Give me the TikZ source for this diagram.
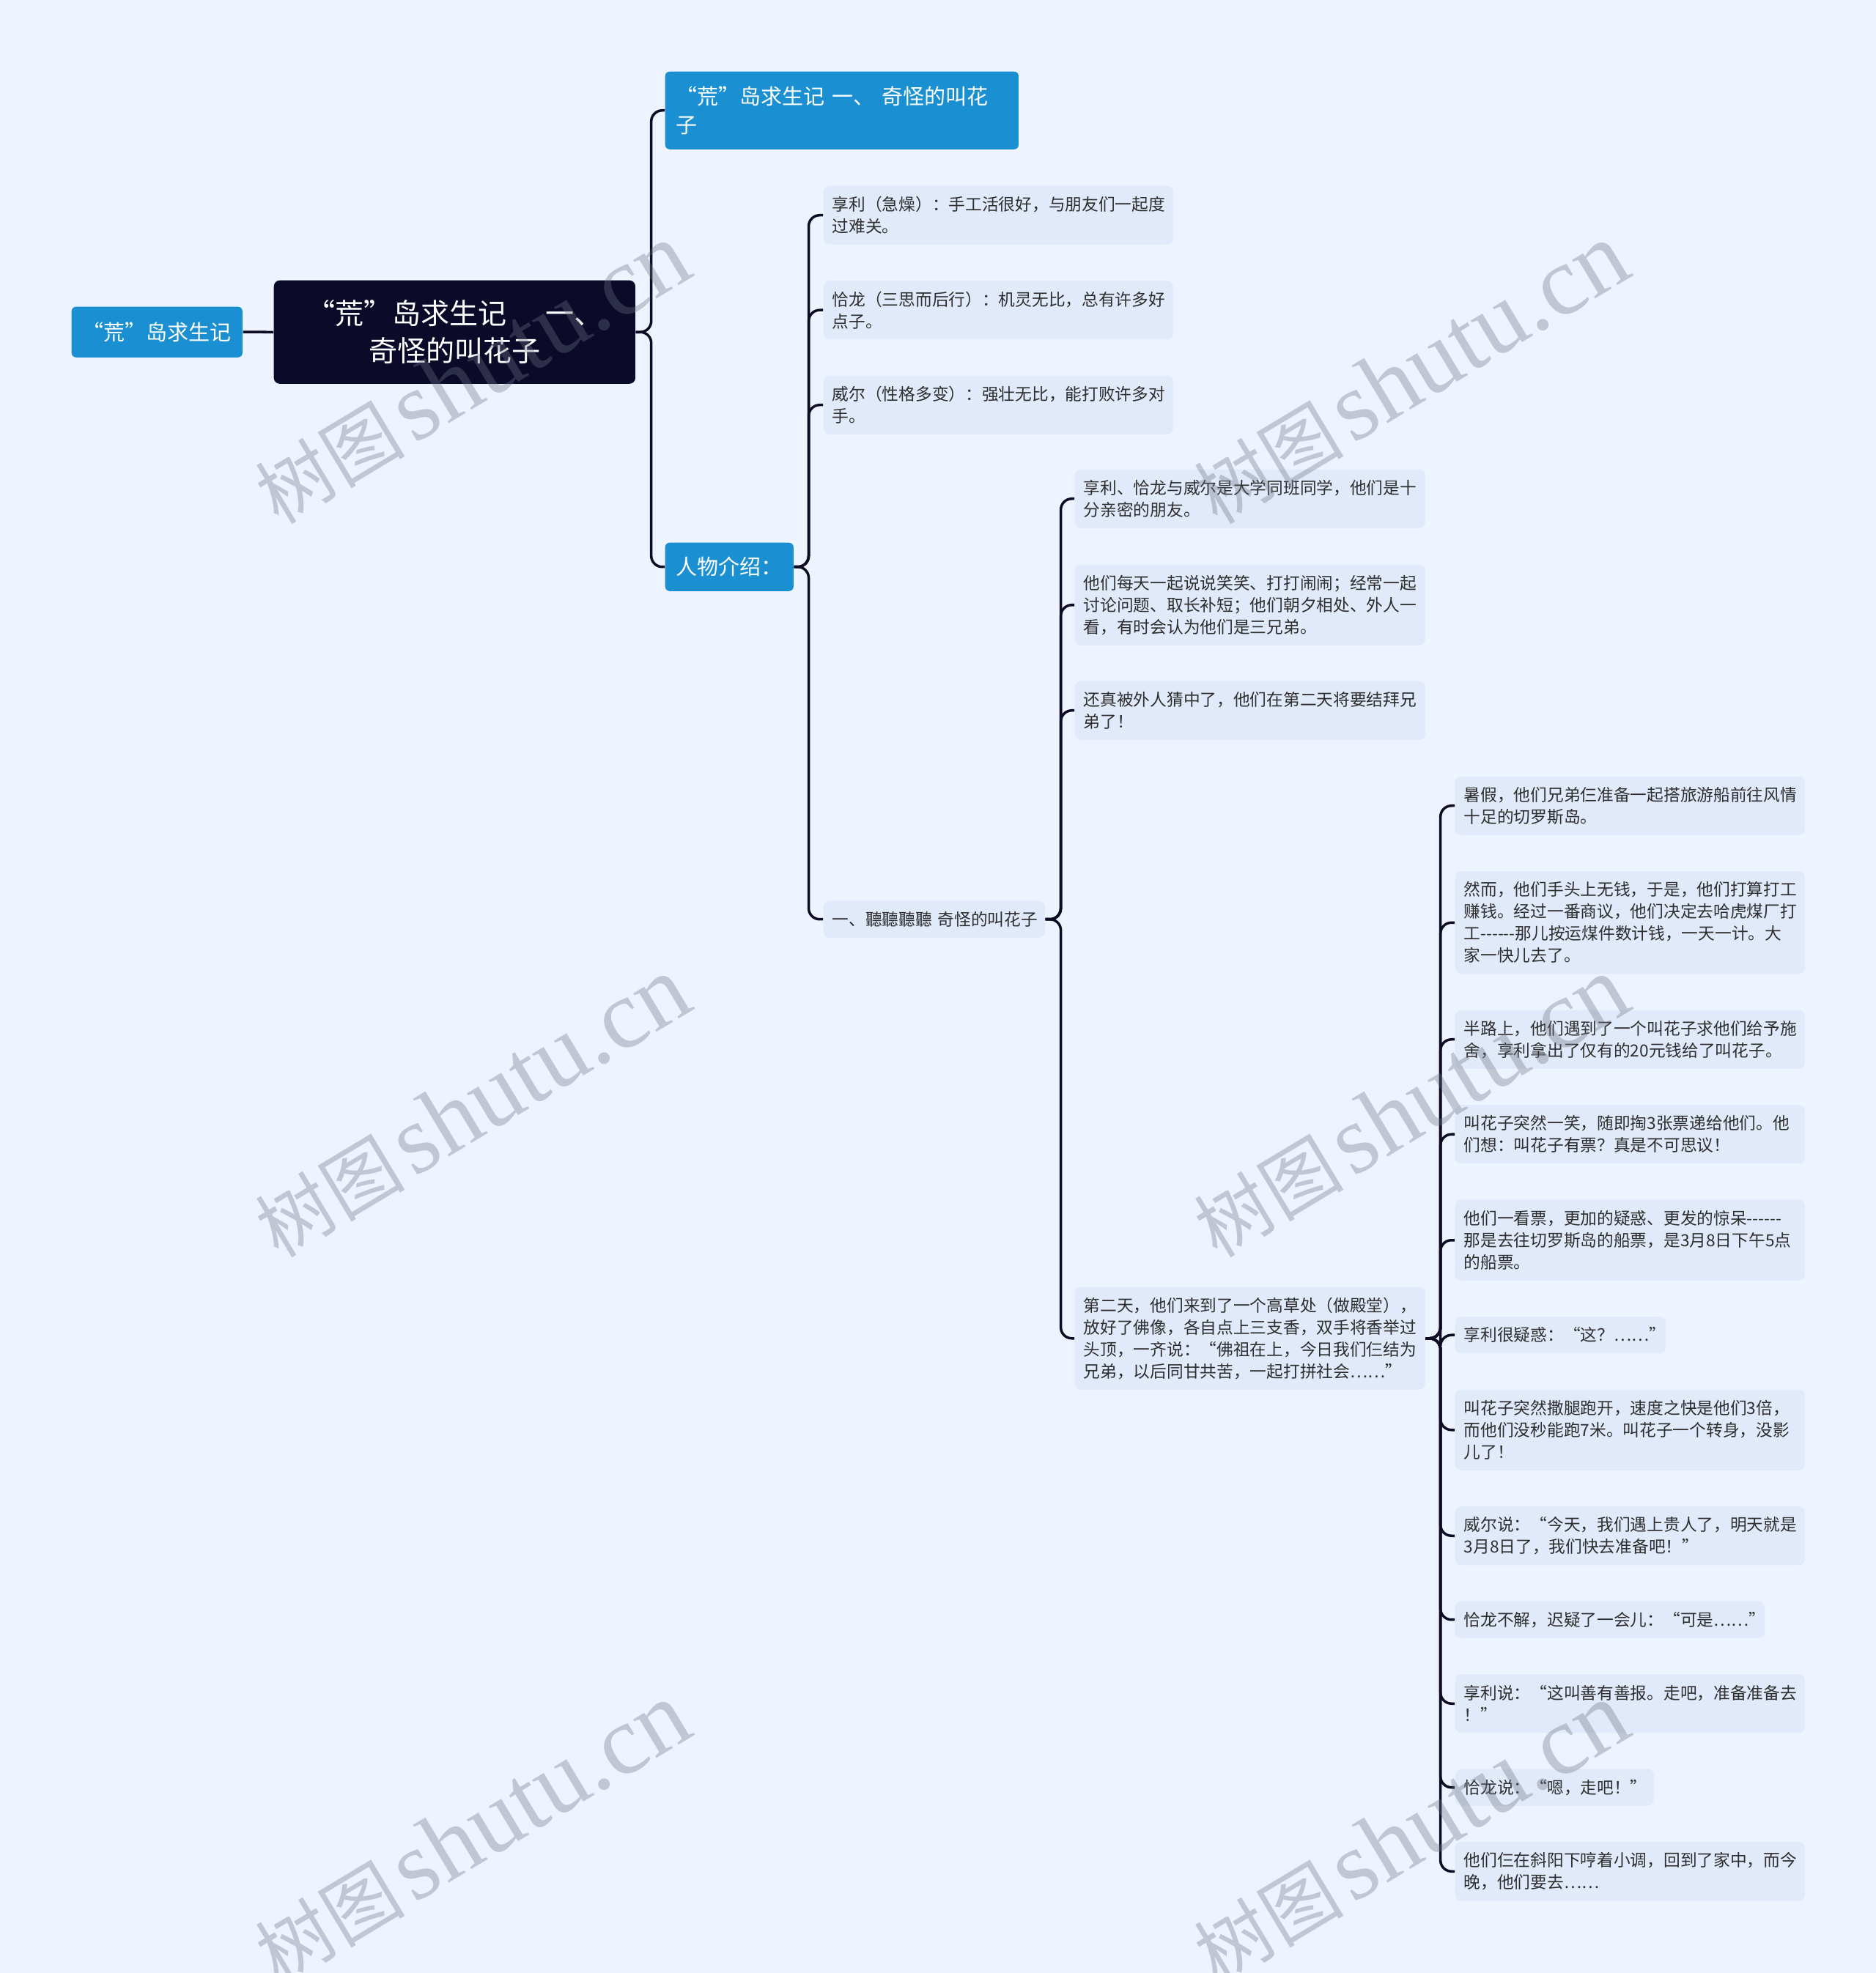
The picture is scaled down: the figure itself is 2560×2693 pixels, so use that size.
\documentclass[tikz,border=0pt]{standalone}
\usepackage{fontspec}
\newfontfamily\cjk{Noto Sans CJK SC}
\newfontfamily\wmlat{Liberation Serif}
\definecolor{bgc}{HTML}{EEF4FF}
\definecolor{leafc}{HTML}{E1EAFA}
\definecolor{bluec}{HTML}{1A90D2}
\definecolor{darkc}{HTML}{0B0A28}
\definecolor{linec}{HTML}{0D0C24}
\definecolor{txtc}{HTML}{2E2E2E}
\definecolor{wmc}{HTML}{6E7382}
\newcommand\dashes{-\kern0pt-\kern0pt-\kern0pt-\kern0pt-\kern0pt-}
\begin{document}
\begin{tikzpicture}[x=0.01cm,y=-0.01cm,
  leaf/.style={anchor=north west, fill=leafc, rounded corners=0.08cm, inner xsep=0.12cm, inner ysep=0pt, align=left, text=txtc, font=\cjk\fontsize{6.46}{8.54}\selectfont},
  bluebox/.style={anchor=north west, fill=bluec, rounded corners=0.06cm, inner sep=0pt, text=white, font=\cjk\fontsize{8.25}{11.24}\selectfont},
  conn/.style={draw=linec, line width=0.035cm, rounded corners=0.15cm},
  wm/.style={rotate=31, text=wmc, opacity=0.35, inner sep=0pt}
]
\fill[bgc] (0,0) rectangle (2560,2693);
\useasboundingbox (0,0) rectangle (2560,2693);

% main nodes
\node[bluebox, minimum width=2.33cm, minimum height=0.69cm, align=center] (root) at (97,418) {“荒”岛求生记};
\node[anchor=north west, fill=darkc, rounded corners=0.08cm, minimum width=4.93cm, minimum height=1.41cm, inner sep=0pt, text=white, align=center, text width=4.6cm, font=\cjk\fontsize{11.1}{14.65}\selectfont] (central) at (373,382) {“荒”岛求生记\hspace{1.35em}一、\\奇怪的叫花子};
\node[bluebox, minimum width=4.82cm, minimum height=1.06cm, text width=4.52cm, align=left] (top) at (907,97) {“荒”岛求生记 一、 奇怪的叫花\\子};
\node[bluebox, minimum width=1.75cm, minimum height=0.66cm, align=center] (renwu) at (907,740) {人物介绍：};

% level 2
\node[leaf, text width=4.53cm, minimum height=0.8cm] (l1) at (1123,253) {享利（急燥）：手工活很好，与朋友们一起度\\过难关。};
\node[leaf, text width=4.53cm, minimum height=0.8cm] (l2) at (1123,382.5) {恰龙（三思而后行）：机灵无比，总有许多好\\点子。};
\node[leaf, text width=4.53cm, minimum height=0.8cm] (l3) at (1123,512) {威尔（性格多变）：强壮无比，能打败许多对\\手。};
\node[leaf, text width=2.78cm, minimum height=0.5cm] (l4) at (1123,1229) {\mbox{一、聽聽聽聽 奇怪的叫花子}};

% level 3
\node[leaf, text width=4.54cm, minimum height=0.8cm] (m1) at (1466,640) {享利、恰龙与威尔是大学同班同学，他们是十\\分亲密的朋友。};
\node[leaf, text width=4.54cm, minimum height=1.1cm] (m2) at (1466,770) {他们每天一起说说笑笑、打打闹闹；经常一起\\讨论问题、取长补短；他们朝夕相处、外人一\\看，有时会认为他们是三兄弟。};
\node[leaf, text width=4.54cm, minimum height=0.8cm] (m3) at (1466,929) {还真被外人猜中了，他们在第二天将要结拜兄\\弟了！};
\node[leaf, text width=4.54cm, minimum height=1.4cm] (m4) at (1466,1756) {第二天，他们来到了一个高草处（做殿堂），\\放好了佛像，各自点上三支香，双手将香举过\\头顶，一齐说：“佛祖在上，今日我们仨结为\\兄弟，以后同甘共苦，一起打拼社会……”};

% level 4
\node[leaf, text width=4.53cm, minimum height=0.8cm] (r1) at (1985,1059) {暑假，他们兄弟仨准备一起搭旅游船前往风情\\十足的切罗斯岛。};
\node[leaf, text width=4.53cm, minimum height=1.4cm] (r2) at (1985,1188.5) {然而，他们手头上无钱，于是，他们打算打工\\赚钱。经过一番商议，他们决定去哈虎煤厂打\\工\dashes 那儿按运煤件数计钱，一天一计。大\\家一快儿去了。};
\node[leaf, text width=4.53cm, minimum height=0.8cm] (r3) at (1985,1378) {半路上，他们遇到了一个叫花子求他们给予施\\舍，享利拿出了仅有的20元钱给了叫花子。};
\node[leaf, text width=4.53cm, minimum height=0.8cm] (r4) at (1985,1507.5) {叫花子突然一笑，随即掏3张票递给他们。他\\们想：叫花子有票？真是不可思议！};
\node[leaf, text width=4.53cm, minimum height=1.1cm] (r5) at (1985,1637) {他们一看票，更加的疑惑、更发的惊呆\dashes\\那是去往切罗斯岛的船票，是3月8日下午5点\\的船票。};
\node[leaf, text width=2.63cm, minimum height=0.5cm] (r6) at (1985,1796.5) {享利很疑惑：“这？……”};
\node[leaf, text width=4.53cm, minimum height=1.1cm] (r7) at (1985,1896) {叫花子突然撒腿跑开，速度之快是他们3倍，\\而他们没秒能跑7米。叫花子一个转身，没影\\儿了！};
\node[leaf, text width=4.53cm, minimum height=0.8cm] (r8) at (1985,2055.5) {威尔说：“今天，我们遇上贵人了，明天就是\\3月8日了，我们快去准备吧！”};
\node[leaf, text width=3.98cm, minimum height=0.5cm] (r9) at (1985,2185) {恰龙不解，迟疑了一会儿：“可是……”};
\node[leaf, text width=4.53cm, minimum height=0.8cm] (r10) at (1985,2284.5) {享利说：“这叫善有善报。走吧，准备准备去\\！”};
\node[leaf, text width=2.47cm, minimum height=0.5cm] (r11) at (1985,2414) {恰龙说：“嗯，走吧！”};
\node[leaf, text width=4.53cm, minimum height=0.8cm] (r12) at (1985,2513.5) {他们仨在斜阳下哼着小调，回到了家中，而今\\晚，他们要去……};

% connectors
\draw[conn] (root.east) -- (central.west);
\draw[conn] (central.east) -- ++(21,0) |- (top.west);
\draw[conn] (central.east) -- ++(21,0) |- (renwu.west);
\foreach \c in {l1,l2,l3,l4} \draw[conn] (renwu.east) -- ++(20,0) |- (\c.west);
\foreach \c in {m1,m2,m3,m4} \draw[conn] (l4.east) -- ++(21,0) |- (\c.west);
\foreach \c in {r1,r2,r3,r4,r5,r6,r7,r8,r9,r10,r11,r12} \draw[conn] (m4.east) -- ++(20,0) |- (\c.west);

% watermarks
\foreach \wx in {644,1925} {
  \foreach \wy in {510,1511,2502} {
    \node[wm] at (\wx,\wy) {{\cjk\fontsize{29}{29}\selectfont 树图} {\wmlat\fontsize{38}{38}\selectfont shutu.cn}};
  }
}
\end{tikzpicture}
\end{document}
